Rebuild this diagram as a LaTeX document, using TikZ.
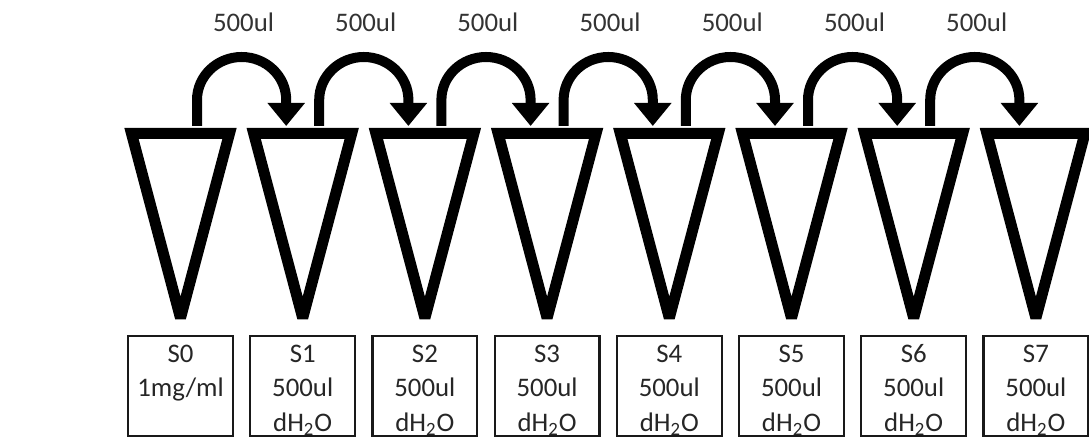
\documentclass[tikz,border=0pt]{standalone}
\usepackage{fontspec}
\setmainfont{Carlito}
\usetikzlibrary{arrows.meta}

\begin{document}
\begin{tikzpicture}[x=0.5pt, y=0.5pt,
    cone/.style={line width=5.5pt, line join=miter, miter limit=2},
    flow/.style={line width=5pt, -{Triangle[width=18pt, length=11.5pt]}},
    tubebox/.style={draw=black!90, line width=1.1pt, minimum width=52.4pt, minimum height=49.9pt, inner sep=0pt},
    boxtext/.style={anchor=north, align=center, inner sep=0pt, text=black!85, font=\fontsize{13.4}{17.25}\selectfont},
    vol/.style={text=black!80, font=\fontsize{13.4}{15}\selectfont}]
    \useasboundingbox (0,0) rectangle (1089,443);

    % Tubes and their boxes
    \foreach \i in {0,...,7} {
        \pgfmathsetmacro{\cx}{180.5+122.2*\i}
        \draw[cone] (\cx-49,309.5) -- (\cx+49,309.5) -- (\cx,125) -- cycle;
        \coordinate (in\i) at (\cx-16.5,317);
        \coordinate (out\i) at (\cx+16.5,317);
        \node[tubebox] (box\i) at (\cx,57) {};
    }

    % Box contents
    \node[boxtext] (txt0) at ([yshift=-1.4pt]box0.north) {\strut S0\\1mg/ml};
    \foreach \i in {1,...,7}
        \node[boxtext] (txt\i) at ([yshift=-1.4pt]box\i.north) {\strut S\i\\500ul\\dH\textsubscript{2}O};

    % Transfers
    \foreach \i [count=\j] in {0,...,6} {
        \pgfmathsetmacro{\cx}{180.5+122.2*\i}
        \draw[flow] (out\i) -- ++(0,26) arc[start angle=180, end angle=0, x radius=44.6, y radius=43] -- (in\j);
        \node[vol] (vol\i) at (\cx+63,421) {500ul};
    }
\end{tikzpicture}
\end{document}
